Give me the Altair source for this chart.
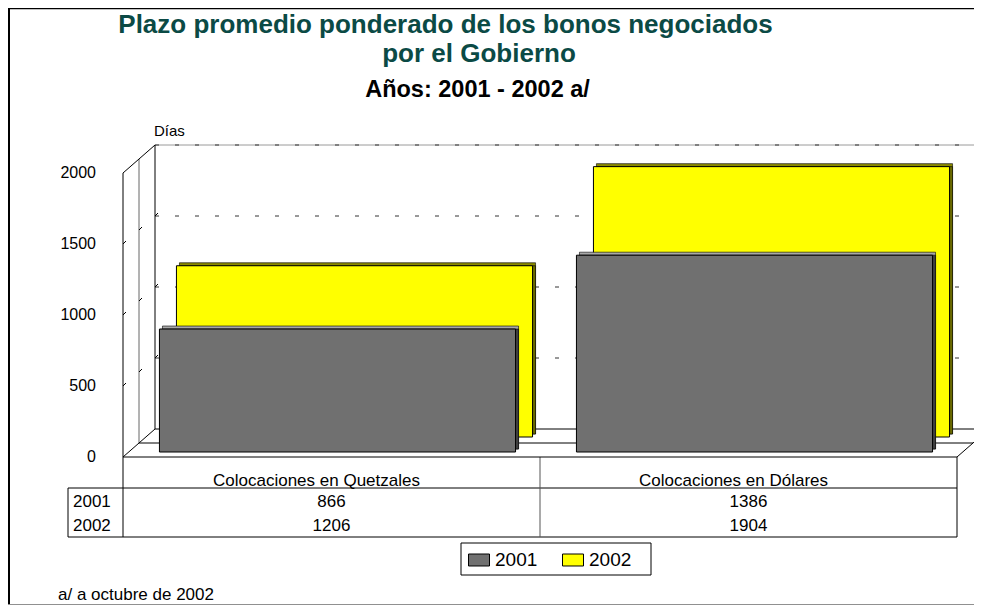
import altair as alt
import pandas as pd

# ---------------- data ----------------
categories = ["Colocaciones en Quetzales", "Colocaciones en Dólares"]
series_names = ["2001", "2002"]
values_2001 = [866, 1386]
values_2002 = [1206, 1904]
y_tick_values = [0, 500, 1000, 1500, 2000]
grid_values = [500, 1000, 1500]
title_line_1 = "Plazo promedio ponderado de los bonos negociados"
title_line_2 = "por el Gobierno"
subtitle_text = "Años: 2001 - 2002 a/"
y_unit_label = "Días"
footnote_text = "a/ a octubre de 2002"

# ---------------- style ----------------
FONT = "Liberation Sans"
TEAL = "#0b4a45"
GRAY = "#707070"
YELLOW = "#ffff00"
GRAY_TOP, GRAY_SIDE = "#a8a8a8", "#404040"
YEL_TOP, YEL_SIDE = "#8a8a00", "#6a6a00"

OX, OY = 8, 8            # page offset of the svg
W, H = 966, 597


def px(x):
    return x - OX


def py(y):
    return y - OY


FRONT_X0, FRONT_X1 = 123, 957
Y0_PAGE, YMAX_PAGE = 457, 173
DX, DY = 32, -28          # full depth of the 3-D box
RIGHT_END = OX + W        # right edge of the drawing

bars = pd.DataFrame({
    "cat": categories * 2,
    "year": [series_names[0]] * 2 + [series_names[1]] * 2,
    "value": values_2001 + values_2002,
})
ticks_df = pd.DataFrame({"v": y_tick_values})
grid_df = pd.DataFrame({"v": grid_values})
one = pd.DataFrame({"k": [0]})

xs = alt.Scale(domain=categories, range=[px(FRONT_X0), px(FRONT_X1)],
               paddingInner=0, paddingOuter=0)
ys = alt.Scale(domain=[0, 2000], range=[py(Y0_PAGE), py(YMAX_PAGE)], nice=False, zero=True)
cs = alt.Scale(domain=series_names, range=[GRAY, YELLOW])

layers = []


def seg(x1, x2, v1, v2, d1=0, d2=0, color="black", width=1.0, dash=None):
    kw = dict(color=color, strokeWidth=width, yOffset=d1, y2Offset=d2)
    if dash is not None:
        kw["strokeDash"] = dash
    return alt.Chart(one).mark_rule(**kw).encode(
        x=alt.value(px(x1)), x2=alt.value(px(x2)),
        y=alt.YDatum(v1, scale=ys, axis=None), y2=alt.Y2Datum(v2))


def hgrid(x1, x2, d, color, width, dash=None):
    kw = dict(color=color, strokeWidth=width, yOffset=d)
    if dash is not None:
        kw["strokeDash"] = dash
    return alt.Chart(grid_df).mark_rule(**kw).encode(
        x=alt.value(px(x1)), x2=alt.value(px(x2)),
        y=alt.Y("v:Q", scale=ys, axis=None))


def pxrule(x1, y1, x2, y2, color="black", width=1.0):
    return alt.Chart(one).mark_rule(color=color, strokeWidth=width).encode(
        x=alt.value(px(x1)), x2=alt.value(px(x2)),
        y=alt.value(py(y1)), y2=alt.value(py(y2)))


# ---------------- outer frame ----------------
layers.append(pxrule(9, 8, 9, 610, width=2))
layers.append(pxrule(8, 8.5, RIGHT_END, 8.5, width=1.5))
layers.append(pxrule(8, 604.5, RIGHT_END, 604.5, color="#909090", width=1))

# ---------------- back wall gridlines ----------------
layers.append(hgrid(FRONT_X0 + DX, RIGHT_END, DY, "#333333", 1, [4, 16]))
layers.append(seg(FRONT_X0 + DX, RIGHT_END, 2000, 2000, DY, DY, color="#9a9a9a", width=1))
layers.append(seg(FRONT_X0 + DX, RIGHT_END, 2000, 2000, DY, DY, color="#333333", width=1, dash=[4, 16]))

# ---------------- walls / floor ----------------
layers.append(seg(FRONT_X0, FRONT_X0, 0, 2000))
layers.append(seg(FRONT_X0 + 16, FRONT_X0 + 16, 0, 2000, -14, -14, color="#666666"))
layers.append(seg(FRONT_X0 + DX, FRONT_X0 + DX, 0, 2000, DY, DY))
layers.append(seg(FRONT_X0, FRONT_X0 + DX, 2000, 2000, 0, DY))
layers.append(seg(FRONT_X0, FRONT_X0 + DX, 0, 0, 0, DY))
layers.append(seg(FRONT_X0 + 16, FRONT_X1 + 16, 0, 0, -14, -14))
layers.append(seg(FRONT_X0 + DX, RIGHT_END, 0, 0, DY, DY))
layers.append(seg(FRONT_X1, RIGHT_END, 0, 0, 0, -(RIGHT_END - FRONT_X1) * 28 / 32))

# small wall ticks
for xb, d in [(FRONT_X0, 0), (FRONT_X0 + 16, -14), (FRONT_X0 + DX, DY)]:
    layers.append(alt.Chart(grid_df).mark_rule(color="black", strokeWidth=1, yOffset=d, y2Offset=d - 3).encode(
        x=alt.value(px(xb)), x2=alt.value(px(xb + 3)),
        y=alt.Y("v:Q", scale=ys, axis=None), y2="v:Q"))

# ---------------- 3-D bars ----------------
legend = alt.Legend(
    title=None, orient="none", legendX=px(468), legendY=py(549), direction="horizontal",
    symbolType="M-1,-0.571H1V0.571H-1Z", symbolSize=441, symbolStrokeColor="black",
    symbolStrokeWidth=1, symbolOpacity=1, labelFont=FONT, labelFontSize=19, labelColor="black",
    labelOffset=5, columnPadding=22, padding=0)

BAND = alt.RelativeBandSize(0.854)
bar_specs = [  # back row first
    (series_names[1], 23, -20, YEL_TOP, YEL_SIDE),
    (series_names[0], 6, -5, GRAY_TOP, GRAY_SIDE),
]
for year, dx, dy, topc, sidec in bar_specs:
    base = alt.Chart(bars).transform_filter(alt.datum.year == year)
    enc = dict(x=alt.X("cat:N", scale=xs, axis=None),
               y=alt.Y("value:Q", scale=ys, axis=None, stack=None),
               y2=alt.Y2Datum(0))
    layers.append(base.mark_bar(width=BAND, xOffset=dx + 3, x2Offset=dx + 3, yOffset=dy - 3, y2Offset=dy - 3,
                                fill=topc, stroke="black", strokeWidth=0.6).encode(**enc))
    layers.append(base.mark_bar(width=BAND, xOffset=dx + 3, x2Offset=dx + 3, yOffset=dy, y2Offset=dy - 3,
                                fill=sidec, stroke="black", strokeWidth=0.6).encode(**enc))
    layers.append(base.mark_bar(width=BAND, xOffset=dx, x2Offset=dx, yOffset=dy, y2Offset=dy,
                                stroke="black", strokeWidth=1, opacity=1).encode(
        color=alt.Color("year:N", scale=cs, legend=legend), **enc))

# ---------------- data table ----------------
layers.append(pxrule(FRONT_X0, 457, FRONT_X0, 537))
layers.append(pxrule(68, 488, 68, 537))
layers.append(pxrule(68, 488, FRONT_X1, 488))
layers.append(pxrule(68, 537, FRONT_X1, 537))
layers.append(pxrule(FRONT_X1, 457, FRONT_X1, 537))
layers.append(pxrule(540, 457, 540, 537, color="#555555"))
layers.append(seg(FRONT_X0, FRONT_X1, 0, 0))

layers.append(alt.Chart(pd.DataFrame({"cat": categories})).mark_text(
    font=FONT, fontSize=17, align="center", baseline="alphabetic", xOffset=-15, color="black").encode(
    x=alt.X("cat:N", scale=xs, axis=None), y=alt.value(py(486)), text="cat:N"))

for year, base_y in zip(series_names, [507, 531]):
    layers.append(alt.Chart(bars).transform_filter(alt.datum.year == year).mark_text(
        font=FONT, fontSize=17, align="center", baseline="alphabetic", color="black").encode(
        x=alt.X("cat:N", scale=xs, axis=None), y=alt.value(py(base_y)),
        text=alt.Text("value:Q", format="d")))
    layers.append(alt.Chart(pd.DataFrame({"year": [year]})).mark_text(
        font=FONT, fontSize=17, align="left", baseline="alphabetic", color="black").encode(
        x=alt.value(px(73)), y=alt.value(py(base_y)), text="year:N"))

# ---------------- y labels ----------------
layers.append(alt.Chart(ticks_df).mark_text(
    font=FONT, fontSize=16, align="right", baseline="middle", color="black").encode(
    x=alt.value(px(96)), y=alt.Y("v:Q", scale=ys, axis=None), text=alt.Text("v:Q", format="d")))

layers.append(alt.Chart(one).mark_text(
    font=FONT, fontSize=15, align="left", baseline="alphabetic", color="black").encode(
    x=alt.value(px(154)), y=alt.value(py(136)), text=alt.value(y_unit_label)))

# ---------------- titles ----------------
for txt, cx, by, size, col in [
    (title_line_1, 445.5, 33, 26, TEAL),
    (title_line_2, 479, 62, 26, TEAL),
    (subtitle_text, 477.5, 97, 23.5, "black"),
]:
    layers.append(alt.Chart(one).mark_text(
        font=FONT, fontSize=size, fontWeight="bold", align="center", baseline="alphabetic", color=col).encode(
        x=alt.value(px(cx)), y=alt.value(py(by)), text=alt.value(txt)))

# ---------------- legend box & footnote ----------------
layers.append(alt.Chart(one).mark_rect(fill="white", stroke="black", strokeWidth=1).encode(
    x=alt.value(px(461)), x2=alt.value(px(651)), y=alt.value(py(543)), y2=alt.value(py(575))))

layers.append(alt.Chart(one).mark_text(
    font=FONT, fontSize=17, align="left", baseline="alphabetic", color="black").encode(
    x=alt.value(px(58)), y=alt.value(py(600)), text=alt.value(footnote_text)))

chart = alt.layer(*layers).properties(
    width=W, height=H, autosize=alt.AutoSizeParams(type="none"), padding=0,
    background="white",
).configure_view(stroke="transparent", strokeWidth=0)

chart.save("out.html", embed_options={"renderer": "svg", "actions": False})
